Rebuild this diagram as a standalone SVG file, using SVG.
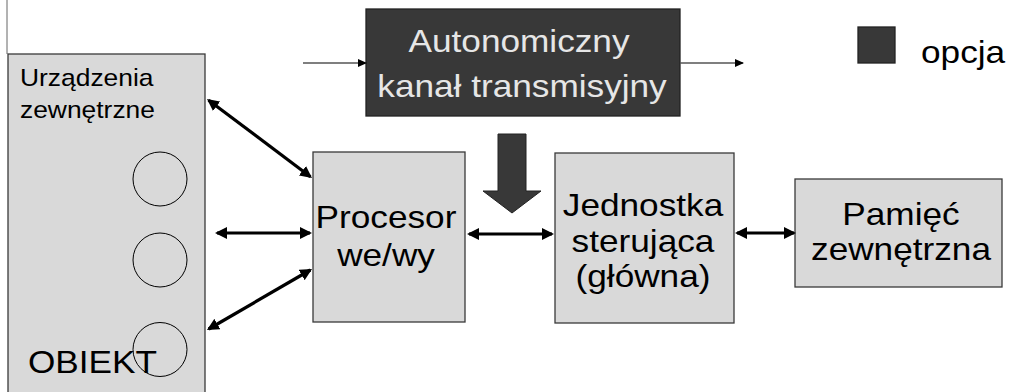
<svg xmlns="http://www.w3.org/2000/svg" width="1010" height="392" viewBox="0 0 1010 392">
<style>
.box{fill:#d9d9d9;stroke:#3a3a3a;stroke-width:1.3}
.dark{fill:#383838;stroke:#222;stroke-width:1.3}
.t{font-family:"Liberation Sans",Arial,sans-serif;fill:#000}
.lt{fill:#e6e6e6}
.thick{stroke:#000;stroke-width:3.2;fill:none;marker-start:url(#ah);marker-end:url(#ah)}
.thin{stroke:#555;stroke-width:1.3;fill:none;marker-end:url(#sh)}
</style>
<defs>
<marker id="ah" viewBox="0 0 12 12" markerWidth="12" markerHeight="12" markerUnits="userSpaceOnUse" refX="10" refY="6" orient="auto-start-reverse">
<path d="M0,0 L12,6 L0,12 z" fill="#000"/>
</marker>
<marker id="sh" viewBox="0 0 9 8" markerWidth="9" markerHeight="8" markerUnits="userSpaceOnUse" refX="8" refY="4" orient="auto">
<path d="M0,0 L9,4 L0,8 z" fill="#000"/>
</marker>
</defs>
<rect width="1010" height="392" fill="#fff"/>
<line x1="7" y1="0" x2="7" y2="54" stroke="#666" stroke-width="1"/>

<g id="obiekt">
<rect class="box" x="8" y="54" width="197" height="345"/>
<circle cx="160" cy="179" r="27" fill="none" stroke="#000" stroke-width="1"/>
<circle cx="160" cy="260" r="27" fill="none" stroke="#000" stroke-width="1"/>
<circle cx="160" cy="349.5" r="27" fill="none" stroke="#000" stroke-width="1"/>
<text class="t" font-size="24" transform="translate(20 86) scale(1.1 1)">Urządzenia</text>
<text class="t" font-size="24" transform="translate(20 118) scale(1.1 1)">zewnętrzne</text>
<text class="t" font-size="32" transform="translate(28 373) scale(1.1 1)">OBIEKT</text>
</g>

<g id="kanal">
<rect class="dark" x="366" y="9" width="314" height="107"/>
<text class="t lt" font-size="32" text-anchor="middle" transform="translate(519 52) scale(1.1 1)">Autonomiczny</text>
<text class="t lt" font-size="32" text-anchor="middle" transform="translate(522 97) scale(1.1 1)">kanał transmisyjny</text>
</g>

<g id="legenda">
<rect class="dark" x="858" y="27" width="37" height="36"/>
<text class="t" font-size="32" transform="translate(921 63) scale(1.1 1)">opcja</text>
</g>

<g id="procesor">
<rect class="box" x="313" y="152" width="152" height="170"/>
<text class="t" font-size="32" text-anchor="middle" transform="translate(386 228) scale(1.1 1)">Procesor</text>
<text class="t" font-size="32" text-anchor="middle" transform="translate(386 266) scale(1.1 1)">we/wy</text>
</g>

<g id="jednostka">
<rect class="box" x="555" y="153" width="179" height="170"/>
<text class="t" font-size="32" text-anchor="middle" transform="translate(643 216) scale(1.1 1)">Jednostka</text>
<text class="t" font-size="32" text-anchor="middle" transform="translate(643 252) scale(1.1 1)">sterująca</text>
<text class="t" font-size="32" text-anchor="middle" transform="translate(643 287) scale(1.1 1)">(główna)</text>
</g>

<g id="pamiec">
<rect class="box" x="795" y="179" width="207" height="108"/>
<text class="t" font-size="32" text-anchor="middle" transform="translate(901 225) scale(1.1 1)">Pamięć</text>
<text class="t" font-size="32" text-anchor="middle" transform="translate(901 260) scale(1.1 1)">zewnętrzna</text>
</g>

<g id="connectors">
<line class="thin" x1="303" y1="63" x2="366" y2="63"/>
<line class="thin" x1="680" y1="63" x2="743" y2="63"/>
<polygon points="498,134 526,134 526,191 541,191 512,213 483,191 498,191" fill="#383838" stroke="#222" stroke-width="1"/>
<line class="thick" x1="208.6" y1="100.2" x2="310.4" y2="176.8"/>
<line class="thick" x1="217" y1="233" x2="310" y2="233"/>
<line class="thick" x1="208.7" y1="329" x2="310.3" y2="270"/>
<line class="thick" x1="469" y1="234" x2="552" y2="234"/>
<line class="thick" x1="737" y1="233" x2="794" y2="233"/>
</g>
</svg>
